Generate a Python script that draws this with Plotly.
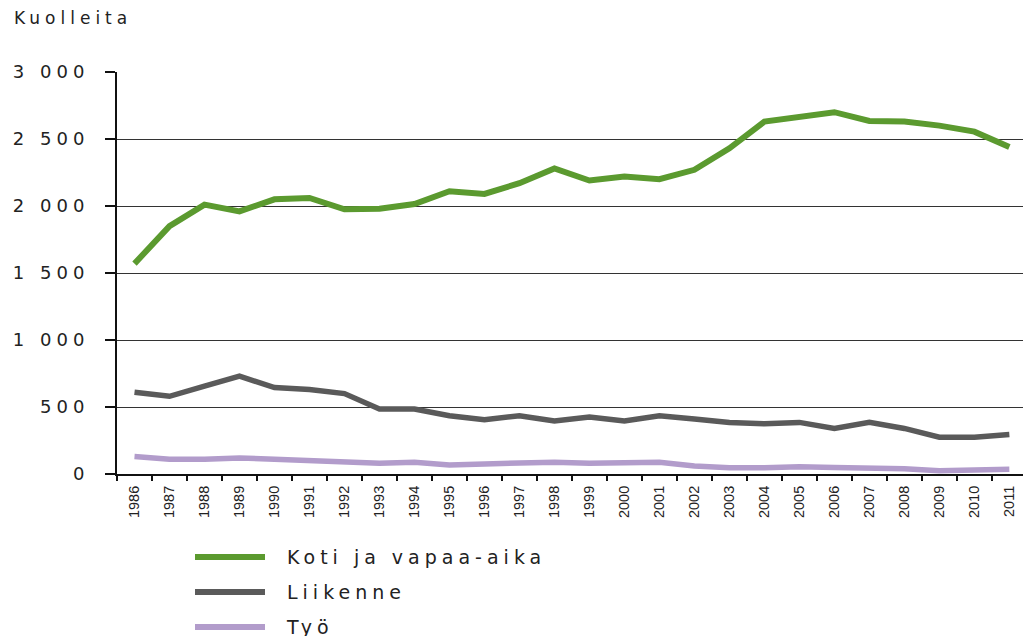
import plotly.graph_objects as go

years = [str(y) for y in range(1986, 2012)]
koti = [1570, 1850, 2010, 1960, 2050, 2060, 1975, 1980, 2015, 2110, 2090, 2170, 2280,
        2190, 2220, 2200, 2270, 2430, 2630, 2670, 2700, 2635, 2630, 2600, 2555, 2440]
liikenne = [610, 580, 655, 730, 645, 630, 600, 485, 485, 435, 405, 435, 395,
            425, 395, 435, 410, 385, 375, 385, 340, 385, 340, 275, 275, 295]
tyo = [130, 110, 110, 120, 110, 100, 80, 80, 88, 68, 75, 80, 88,
       80, 88, 88, 60, 47, 47, 55, 48, 48, 40, 25, 35, 35]
series_names = ["Koti ja vapaa-aika", "Liikenne", "Työ"]
y_ticks = [0, 500, 1000, 1500, 2000, 2500, 3000]
y_tick_labels = ["0", "500", "1 000", "1 500", "2 000", "2 500", "3 000"]
y_title = "Kuolleita"

colors = ["#5B9A2F", "#5A5A5A", "#B29CCB"]
widths = [6, 5.5, 5.5]

# plot area geometry in pixels (for converting legend placement to paper coords)
W, H = 1023, 636
ML, MR, MT, MB = 117, 0, 72, 162
PW, PH = W - ML - MR, H - MT - MB


def px_x(px):
    return (px - ML) / PW


def px_y(py):
    return (H - MB - py) / PH


fig = go.Figure()
for name, vals, c, w in zip(series_names, [koti, liikenne, tyo], colors, widths):
    fig.add_trace(go.Scatter(x=years, y=vals, mode="lines", name=name,
                             line=dict(color=c, width=w), showlegend=False))

txt = "#222222"
annotations = [dict(text=y_title, xref="paper", yref="paper",
                    x=px_x(12), y=px_y(18), xanchor="left", yanchor="middle",
                    showarrow=False, font=dict(family="DejaVu Sans", size=17, color=txt))]
shapes = []
legend_y = [557, 592, 627]
for name, c, ly in zip(series_names, colors, legend_y):
    shapes.append(dict(type="line", xref="paper", yref="paper",
                       x0=px_x(195), x1=px_x(265), y0=px_y(ly), y1=px_y(ly),
                       line=dict(color=c, width=6)))
    annotations.append(dict(text=name, xref="paper", yref="paper",
                            x=px_x(285), y=px_y(ly), xanchor="left", yanchor="middle",
                            showarrow=False,
                            font=dict(family="DejaVu Sans", size=19, color=txt)))

fig.update_layout(
    width=W, height=H,
    margin=dict(l=ML, r=MR, t=MT, b=MB),
    paper_bgcolor="white", plot_bgcolor="white",
    font=dict(family="DejaVu Sans", color=txt, size=18),
    showlegend=False,
    annotations=annotations,
    shapes=shapes,
)
fig.update_xaxes(type="category", range=[-0.5, 25.39],
                 showline=True, linecolor="#111", linewidth=2,
                 ticks="outside", ticklen=5, tickwidth=2, tickcolor="#111",
                 tickson="boundaries", showgrid=False,
                 tickangle=-90, tickfont=dict(family="Liberation Sans", size=14.5, color=txt),
                 ticklabelstandoff=4)
fig.update_yaxes(range=[0, 3000], tickvals=y_ticks, ticktext=y_tick_labels,
                 showline=True, linecolor="#111", linewidth=2,
                 ticks="outside", ticklen=10, tickwidth=1.5, tickcolor="#111",
                 showgrid=True, gridcolor="#333", gridwidth=1.3,
                 zeroline=False,
                 tickfont=dict(family="DejaVu Sans", size=18, color=txt),
                 ticklabelstandoff=12)

post = """
document.body.style.margin = '0';
document.body.style.overflow = 'hidden';
var gd = document.getElementById('{plot_id}');
gd.querySelectorAll('.ytick text').forEach(function(t){
    t.style.letterSpacing = '5px';
});
gd.querySelectorAll('.annotation-text').forEach(function(t){
    var bb = t.getBBox();
    t.setAttribute('text-anchor', 'start');
    t.setAttribute('x', bb.x);
    t.style.letterSpacing = '5px';
});
"""
fig.write_html("out.html", post_script=post, config={"displayModeBar": False})
